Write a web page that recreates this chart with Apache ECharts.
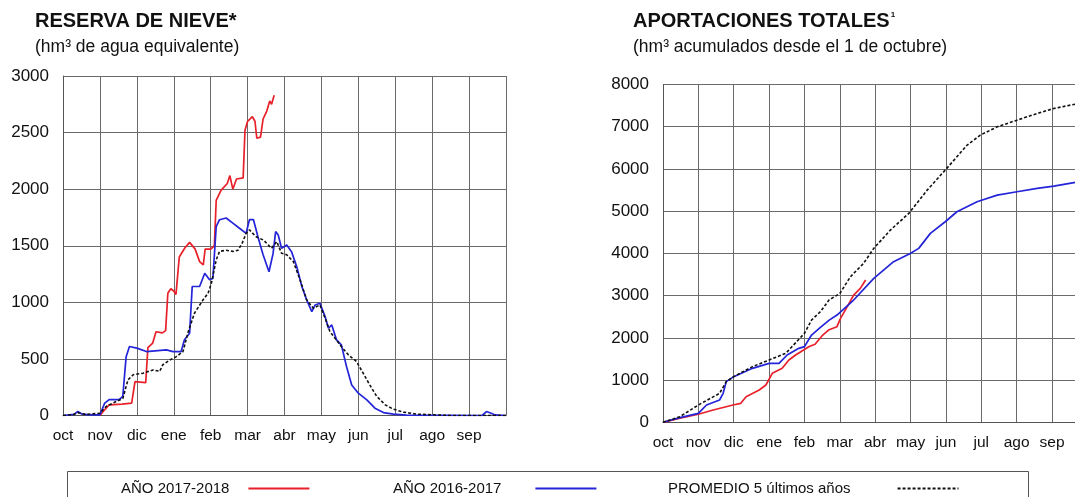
<!DOCTYPE html>
<html><head><meta charset="utf-8">
<script src="https://cdn.jsdelivr.net/npm/echarts@6/dist/echarts.min.js"></script>
<style>html,body{margin:0;padding:0;background:#fff;overflow:hidden}#c{width:1110px;height:497px}</style>
</head><body><div id="c"></div>
<script>
// Month tick labels (x = months since 1 Oct)
const monthLabels = ['oct','nov','dic','ene','feb','mar','abr','may','jun','jul','ago','sep',''];
const seriesNames = ['AÑO 2017-2018','AÑO 2016-2017','PROMEDIO 5 últimos años'];

// RESERVA DE NIEVE (hm3) — [month, value]
const nieve1718 = [[1.0,0],[1.1,40],[1.25,94],[1.6,100],[1.86,110],[1.95,300],[2.0,290],[2.24,290],[2.3,600],[2.43,640],[2.52,740],[2.69,730],[2.78,750],[2.84,1080],[2.92,1120],[3.0,1100],[3.06,1070],[3.15,1400],[3.3,1480],[3.43,1530],[3.58,1470],[3.7,1360],[3.8,1330],[3.85,1470],[4.0,1470],[4.1,1500],[4.15,1900],[4.28,1990],[4.45,2050],[4.52,2120],[4.6,2000],[4.7,2090],[4.88,2100],[4.93,2520],[5.0,2600],[5.13,2640],[5.2,2600],[5.25,2450],[5.35,2460],[5.42,2620],[5.52,2690],[5.6,2780],[5.65,2750],[5.72,2830]];
const nieve1617 = [[0,0],[0.3,10],[0.4,35],[0.5,15],[0.7,5],[1.0,5],[1.13,110],[1.25,140],[1.52,140],[1.62,170],[1.71,520],[1.8,610],[2.0,595],[2.26,565],[2.8,580],[2.98,565],[3.2,565],[3.29,670],[3.43,727],[3.5,1140],[3.7,1140],[3.84,1257],[3.97,1200],[4.06,1210],[4.15,1670],[4.24,1730],[4.42,1745],[4.6,1700],[4.78,1655],[4.96,1610],[5.05,1730],[5.16,1730],[5.28,1580],[5.42,1420],[5.58,1270],[5.69,1430],[5.76,1625],[5.83,1595],[5.92,1478],[6.06,1507],[6.19,1448],[6.33,1316],[6.47,1140],[6.6,1022],[6.74,918],[6.83,977],[6.96,992],[7.1,874],[7.19,771],[7.28,800],[7.41,668],[7.54,624],[7.68,433],[7.82,270],[8.0,197],[8.23,138],[8.45,65],[8.68,26],[8.95,12],[9.3,3],[11.35,0],[11.47,35],[11.6,20],[11.7,5],[12,0]];
const nieveProm = [[0,0],[0.3,10],[0.4,25],[0.6,10],[1.0,20],[1.17,80],[1.44,124],[1.62,150],[1.76,315],[1.9,360],[2.17,374],[2.44,403],[2.62,390],[2.7,447],[2.89,490],[3.07,520],[3.25,565],[3.38,727],[3.56,904],[3.79,1020],[3.93,1080],[4.02,1170],[4.15,1375],[4.24,1450],[4.42,1460],[4.6,1450],[4.74,1460],[4.85,1520],[4.96,1610],[5.05,1640],[5.23,1580],[5.43,1550],[5.65,1478],[5.79,1537],[5.92,1434],[6.06,1420],[6.24,1360],[6.42,1200],[6.6,1022],[6.78,948],[6.96,977],[7.1,860],[7.23,742],[7.37,683],[7.54,609],[7.73,536],[7.95,477],[8.13,374],[8.31,270],[8.5,168],[8.73,94],[8.95,56],[9.22,30],[9.58,12],[10.03,6],[10.5,0],[12,0]];

// APORTACIONES TOTALES (hm3 acumulados) — [month, value]
const aport1718 = [[0,0],[0.48,95],[1.0,190],[1.42,292],[1.98,410],[2.2,450],[2.35,607],[2.72,765],[2.91,884],[3.09,1160],[3.37,1278],[3.56,1475],[3.75,1594],[4.12,1791],[4.3,1850],[4.5,2050],[4.68,2185],[4.92,2264],[5.02,2462],[5.21,2738],[5.39,3014],[5.58,3172],[5.73,3369]];
const aport1617 = [[0,0],[0.48,110],[1.0,213],[1.23,410],[1.6,528],[1.7,686],[1.79,963],[2.0,1081],[2.53,1278],[3.0,1397],[3.28,1397],[3.51,1594],[3.84,1752],[4.0,1791],[4.2,2067],[4.45,2250],[4.7,2420],[4.92,2540],[5.39,2896],[5.96,3408],[6.52,3803],[6.99,4000],[7.23,4119],[7.56,4474],[7.98,4750],[8.31,4986],[8.88,5223],[9.45,5381],[10.01,5460],[10.58,5539],[11.05,5594],[11.66,5681],[12,5720]];
const aportProm = [[0,0],[0.48,134],[1.0,410],[1.6,686],[1.79,963],[2.0,1081],[2.53,1318],[3.0,1475],[3.47,1633],[4.0,2107],[4.2,2422],[4.45,2620],[4.7,2900],[5.0,3050],[5.3,3448],[5.67,3763],[5.96,4119],[6.43,4553],[6.95,4947],[7.47,5499],[7.98,5973],[8.31,6288],[8.6,6565],[8.97,6801],[9.45,6998],[10.01,7156],[10.58,7314],[11.05,7432],[11.66,7535],[12,7600]];

const FONT = 'Liberation Sans, Arial, sans-serif';
const colors = ['#e8202a', '#2424d8', '#111111'];
const gridLine = {show:true, lineStyle:{color:'#6a6a6a', width:1}};

function xAxis(gi){
  return {type:'value', gridIndex:gi, min:0, max:12, interval:1,
    axisLine:{lineStyle:{color:'#555'}}, axisTick:{show:false}, splitLine:gridLine,
    axisLabel:{formatter:v=>monthLabels[v]||'', color:'#111', fontSize:15.5, fontFamily:FONT, margin:12}};
}
function yAxis(gi, max, step){
  return {type:'value', gridIndex:gi, min:0, max:max, interval:step,
    axisLine:{show:true, lineStyle:{color:'#555'}}, axisTick:{show:false}, splitLine:gridLine,
    axisLabel:{formatter:v=>String(v), color:'#111', fontSize:17, fontFamily:FONT, margin:14}};
}
function line(name, data, gi, ci){
  return {name:name, type:'line', xAxisIndex:gi, yAxisIndex:gi, data:data, symbol:'none',
    lineStyle:{color:colors[ci], width:ci===2?1.6:1.7, type:ci===2?[3,2]:'solid'},
    itemStyle:{color:colors[ci]}, animation:false};
}
function legendItem(name, left, gap){
  return {left:left, top:481, padding:0, data:[name], align:'right', itemWidth:61, itemHeight:14,
    selectedMode:false, itemStyle:{opacity:0},
    textStyle:{fontSize:15, fontFamily:FONT, color:'#111', padding:[0,gap,0,0]}};
}

const chart = echarts.init(document.getElementById('c'), null, {renderer:'canvas'});
chart.setOption({
  backgroundColor:'#fff',
  title:[
    {text:'RESERVA DE NIEVE*', subtext:'(hm³ de agua equivalente)', left:35, top:11, padding:0, itemGap:7,
     textStyle:{fontSize:20, fontWeight:'bold', color:'#111', fontFamily:FONT},
     subtextStyle:{fontSize:17.5, color:'#111', fontFamily:FONT}},
    {text:'APORTACIONES TOTALES{s|1}', subtext:'(hm³ acumulados desde el 1 de octubre)', left:633, top:11, padding:0, itemGap:7,
     textStyle:{fontSize:20, fontWeight:'bold', color:'#111', fontFamily:FONT,
       rich:{s:{fontSize:8, verticalAlign:'top', color:'#111', padding:[0,0,9,1]}}},
     subtextStyle:{fontSize:17.5, color:'#111', fontFamily:FONT}}
  ],
  grid:[
    {left:63, top:76, width:443, height:339.5},
    {left:663, top:84.5, width:424.4, height:337.8}
  ],
  xAxis:[xAxis(0), xAxis(1)],
  yAxis:[yAxis(0,3000,500), yAxis(1,8000,1000)],
  legend:[legendItem(seriesNames[0],121,14), legendItem(seriesNames[1],393,29), legendItem(seriesNames[2],668,42)],
  graphic:[{type:'rect', shape:{x:67.5, y:471.5, width:961, height:40},
    style:{fill:'none', stroke:'#555', lineWidth:1}, silent:true}],
  series:[
    line(seriesNames[0], nieve1718, 0, 0),
    line(seriesNames[1], nieve1617, 0, 1),
    line(seriesNames[2], nieveProm, 0, 2),
    line(seriesNames[0], aport1718, 1, 0),
    line(seriesNames[1], aport1617, 1, 1),
    line(seriesNames[2], aportProm, 1, 2)
  ]
});
</script></body></html>
